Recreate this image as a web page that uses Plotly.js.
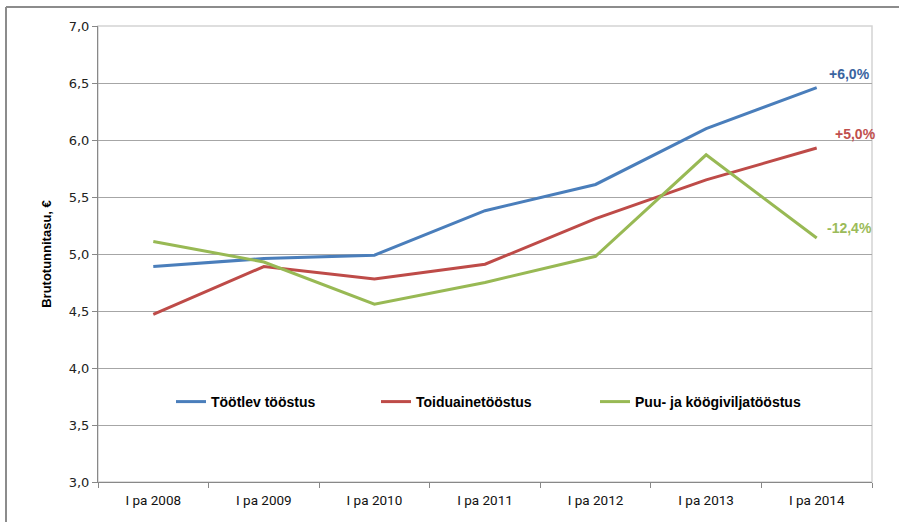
<!DOCTYPE html>
<html>
<head>
<meta charset="utf-8">
<script src="https://cdn.plot.ly/plotly-3.0.1.min.js"></script>
<style>
html,body{margin:0;padding:0;background:#fff;}
#chart{width:899px;height:522px;}
</style>
</head>
<body>
<div id="chart"></div>
<script>
const categories = ["I pa 2008","I pa 2009","I pa 2010","I pa 2011","I pa 2012","I pa 2013","I pa 2014"];
const seriesNames = ["Töötlev tööstus","Toiduainetööstus","Puu- ja köögiviljatööstus"];
const tootlev = [4.89, 4.96, 4.99, 5.38, 5.61, 6.10, 6.46];
const toiduaine = [4.47, 4.89, 4.78, 4.91, 5.31, 5.65, 5.93];
const puuKoogivili = [5.11, 4.93, 4.56, 4.75, 4.98, 5.87, 5.14];
const changeLabels = ["+6,0%","+5,0%","-12,4%"];
const yTicks = [3.0,3.5,4.0,4.5,5.0,5.5,6.0,6.5,7.0];
const yTickText = ["3,0","3,5","4,0","4,5","5,0","5,5","6,0","6,5","7,0"];

const colors = ["#4A7EBB","#BE4B48","#98B954"];
const labelColors = ["#3A64A0","#C0504D","#9BBB59"];
const allSeries = [tootlev, toiduaine, puuKoogivili];
const legendIds = ["legend","legend2","legend3"];

const traces = allSeries.map((ys,i)=>({
  type:"scatter", mode:"lines", x:categories, y:ys, name:seriesNames[i],
  line:{color:colors[i], width:3}, legend:legendIds[i], hoverinfo:"skip"
}));

const sans = "Liberation Sans, Arial, sans-serif";
const legFont = {family:sans, size:14, color:"#000", weight:"bold"};
function leg(xpx){
  return {x:(xpx-98)/774, y:(482-402)/456, xanchor:"left", yanchor:"middle",
    orientation:"h", bgcolor:"rgba(0,0,0,0)", font:legFont, itemwidth:30,
    tracegroupgap:0};
}

const shifts = [[10,14],[16,14],[8,10]];
const annotations = allSeries.map((ys,i)=>({
  x:categories[categories.length-1], y:ys[ys.length-1], xref:"x", yref:"y",
  text:"<b>"+changeLabels[i]+"</b>", showarrow:false, xanchor:"left", yanchor:"middle",
  xshift:shifts[i][0], yshift:shifts[i][1],
  font:{family:sans, size:14, color:labelColors[i]}
}));

const layout = {
  width:899, height:522,
  margin:{l:98, r:27, t:26, b:40},
  paper_bgcolor:"#fff", plot_bgcolor:"#fff",
  showlegend:true,
  legend:leg(171), legend2:leg(376), legend3:leg(595),
  xaxis:{
    type:"category", range:[-0.5,6.5], tickson:"boundaries", ticks:"outside",
    ticklen:5, tickcolor:"#888", showline:true, linecolor:"#888", linewidth:1,
    showgrid:false, zeroline:false, fixedrange:true, ticklabelstandoff:6,
    tickfont:{family:"Roboto, Liberation Sans, sans-serif", size:13.5, color:"#111"}
  },
  yaxis:{
    range:[3,7], tickvals:yTicks, ticktext:yTickText, ticks:"outside", ticklen:5,
    tickcolor:"#888", showline:true, linecolor:"#888", linewidth:1,
    showgrid:true, gridcolor:"#A6A6A6", gridwidth:1, zeroline:false, fixedrange:true,
    tickfont:{family:"DejaVu Sans, Verdana, sans-serif", size:13, color:"#222"},
    title:{text:"<b>Brutotunnitasu, €</b>", standoff:14,
      font:{family:sans, size:13, color:"#000"}}
  },
  annotations:annotations,
  shapes:[
    {type:"rect", xref:"paper", yref:"paper", x0:0, x1:1, y0:0, y1:1,
     line:{color:"#D4D4D4", width:1.5}, layer:"below"},
    {type:"line", xref:"paper", yref:"paper", x0:(6-98)/774, x1:(899-98)/774,
     y0:(482-7)/456, y1:(482-7)/456, line:{color:"#8C8C8C", width:2}},
    {type:"line", xref:"paper", yref:"paper", x0:(6-98)/774, x1:(6-98)/774,
     y0:(482-7)/456, y1:(482-530)/456, line:{color:"#8C8C8C", width:2}}
  ]
};

Plotly.newPlot("chart", traces, layout, {displayModeBar:false, staticPlot:true});
</script>
</body>
</html>
